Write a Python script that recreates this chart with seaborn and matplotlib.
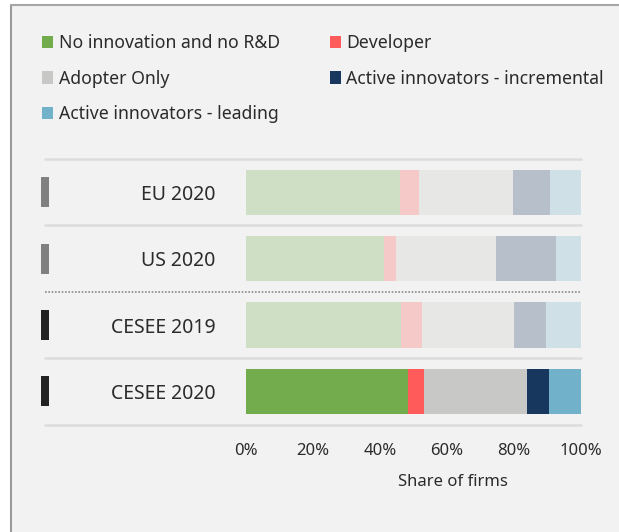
import numpy as np
import pandas as pd
import matplotlib
matplotlib.use("Agg")
import matplotlib.pyplot as plt
import seaborn as sns
from matplotlib.patches import Rectangle
from matplotlib.lines import Line2D
from matplotlib.colors import to_rgb, to_hex

# ---- data ----
categories = ["EU 2020", "US 2020", "CESEE 2019", "CESEE 2020"]
no_innovation = [46.0, 41.2, 46.2, 48.3]
developer = [5.6, 3.6, 6.3, 4.8]
adopter_only = [28.0, 29.8, 27.5, 30.8]
incremental = [11.1, 17.9, 9.6, 6.6]
leading = [9.3, 7.5, 10.4, 9.5]
series_names = ["No innovation and no R&D", "Developer", "Adopter Only",
                "Active innovators - incremental", "Active innovators - leading"]
series_values = [no_innovation, developer, adopter_only, incremental, leading]
highlighted = [False, False, False, True]
xticks = [0, 20, 40, 60, 80, 100]
xtick_labels = ["0%", "20%", "40%", "60%", "80%", "100%"]

# ---- style ----
series_colors = ["#72AC4D", "#FF5B5B", "#C8C8C6", "#17375E", "#71B1C9"]
marker_colors = ["#808080", "#808080", "#222222", "#222222"]
BG = "#f2f2f2"
TEXT = "#2b2b2b"

def fade(c, a=0.27):
    c = np.array(to_rgb(c)); b = np.array(to_rgb(BG))
    return to_hex(b + a * (c - b))

sns.set_theme(style="white")
plt.rcParams["font.family"] = ["Noto Sans", "DejaVu Sans"]

W, H = 619, 532
fig = plt.figure(figsize=(W / 100, H / 100), dpi=100, facecolor="white")

# panel background and border
fig.patches.append(Rectangle((11 / W, 0), 1 - 11 / W, 1 - 5 / H, transform=fig.transFigure,
                             facecolor=BG, edgecolor="none", zorder=-2))
fig.lines.append(Line2D([11 / W, 11 / W], [0, 1 - 5 / H], transform=fig.transFigure,
                        color="#9a9a9a", lw=1.5, zorder=-1))
fig.lines.append(Line2D([11 / W, 1], [1 - 5 / H, 1 - 5 / H], transform=fig.transFigure,
                        color="#a6a6a6", lw=1.5, zorder=-1))

top_px, bot_px = 159, 424.7
ax = fig.add_axes([246 / W, 1 - bot_px / H, (581 - 246) / W, (bot_px - top_px) / H])
ax.set_facecolor("none")

df = pd.DataFrame({"category": categories})
cum = np.cumsum(np.array(series_values), axis=0)
for i in range(len(series_names) - 1, -1, -1):
    df["val"] = cum[i]
    pal = {cat: (series_colors[i] if hl else fade(series_colors[i]))
           for cat, hl in zip(categories, highlighted)}
    sns.barplot(data=df, x="val", y="category", hue="category", palette=pal,
                orient="h", width=0.68, saturation=1, legend=False, ax=ax,
                order=categories, hue_order=categories, errorbar=None, zorder=2,
                linewidth=0, edgecolor="none")

ax.set_xlim(0, 100)
ax.set_ylim(3.5, -0.5)
for s in ax.spines.values():
    s.set_visible(False)
ax.set_xticks(xticks)
ax.set_xticklabels(xtick_labels)
ax.tick_params(axis="x", length=0, pad=13, labelsize=12, labelcolor=TEXT)
ax.tick_params(axis="y", length=0, pad=22, labelsize=14, labelcolor=TEXT)
ax.set_ylabel("")
ax.set_xlabel("Share of firms", fontsize=12, color=TEXT, labelpad=11)
ax.xaxis.label.set_position((0.618, 0))

# separators
ytr = ax.get_yaxis_transform()
x0 = (45 - 246) / 335
for y in [-0.5, 0.5, 2.5, 3.5]:
    ax.plot([x0, 1], [y, y], transform=ytr, color="#dcdcdc", lw=1.8, clip_on=False, zorder=1)
ax.plot([x0, 1], [1.5, 1.5], transform=ytr, color="#8a8a8a", lw=1.2, ls=(0, (1, 1)),
        clip_on=False, zorder=1)

# row markers
for k, c in enumerate(marker_colors):
    ax.add_patch(Rectangle(((41 - 246) / 335, k - 0.226), 8 / 335, 0.452, transform=ytr,
                           facecolor=c, edgecolor="none", clip_on=False))

# legend
handles = [Rectangle((0, 0), 1, 1, facecolor=c, edgecolor="none") for c in series_colors]
order = [0, 2, 4, 1, 3]
leg = fig.legend([handles[i] for i in order], [series_names[i] for i in order],
                 ncol=2, loc="upper left", bbox_to_anchor=(42 / W, 1 - 34 / H),
                 frameon=False, fontsize=12.7, handlelength=0.64, handleheight=0.7,
                 handletextpad=0.3, columnspacing=2.85, labelspacing=1.0,
                 borderaxespad=0, borderpad=0)
for t in leg.get_texts():
    t.set_color(TEXT)

fig.savefig("out.png", dpi=100, facecolor="white")
